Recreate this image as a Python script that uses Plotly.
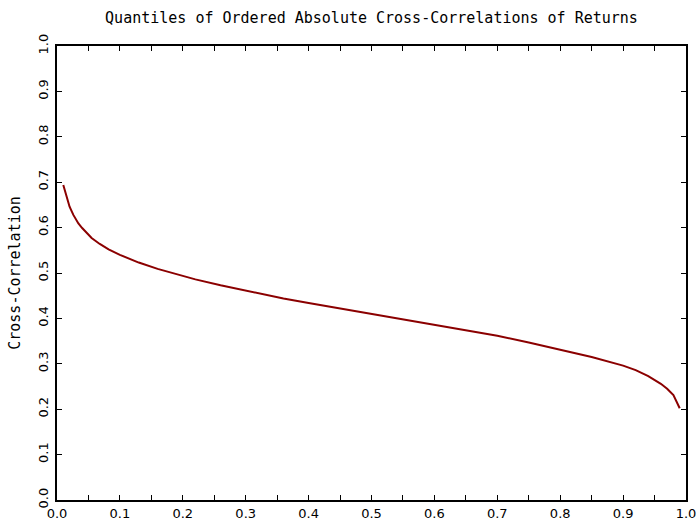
import plotly.graph_objects as go

# Data
quantile = [0.01, 0.015, 0.02, 0.026, 0.034, 0.04, 0.045, 0.055, 0.068, 0.082, 0.10, 0.13,
            0.16, 0.19, 0.22, 0.26, 0.29, 0.32, 0.36, 0.40, 0.45, 0.50, 0.55, 0.60, 0.65,
            0.70, 0.75, 0.80, 0.85, 0.90, 0.92, 0.94, 0.96, 0.97, 0.98, 0.99]
cross_corr = [0.694, 0.668, 0.646, 0.628, 0.609, 0.599, 0.591, 0.577, 0.564, 0.552, 0.540,
              0.523, 0.509, 0.497, 0.486, 0.473, 0.464, 0.455, 0.444, 0.434, 0.422, 0.411,
              0.399, 0.387, 0.375, 0.362, 0.347, 0.331, 0.315, 0.296, 0.286, 0.273, 0.256,
              0.245, 0.231, 0.202]

x_tickvals = [i * 0.05 for i in range(21)]
x_ticktext = [f"{v:.1f}" if i % 2 == 0 else "" for i, v in enumerate(x_tickvals)]
y_tickvals = [i * 0.1 for i in range(11)]
y_ticktext = [f"{v:.1f}" for v in y_tickvals]

title_text = "Quantiles of Ordered Absolute Cross-Correlations of Returns"
y_title = "Cross-Correlation"

fig = go.Figure()
fig.add_trace(go.Scatter(x=quantile, y=cross_corr, mode="lines",
                         line=dict(color="#8B0000", width=2), showlegend=False))

axis_common = dict(showline=True, linecolor="black", linewidth=2, mirror="ticks",
                   ticks="inside", ticklen=5, tickcolor="black", tickwidth=1,
                   showgrid=False, zeroline=False, automargin=False,
                   ticklabeloverflow="allow",
                   tickfont=dict(family="DejaVu Sans", size=13, color="black"))

fig.update_layout(
    width=696, height=524,
    margin=dict(l=57, r=10, t=46, b=24, autoexpand=False),
    paper_bgcolor="white", plot_bgcolor="white",
    title=dict(text=title_text, x=0.5, xref="paper", y=0.967, yanchor="middle",
               font=dict(family="DejaVu Sans Mono", size=15, color="black")),
    xaxis=dict(range=[0, 1], tickmode="array", tickvals=x_tickvals, ticktext=x_ticktext,
               ticklabelstandoff=0, **axis_common),
    yaxis=dict(range=[0, 1], tickmode="array", tickvals=y_tickvals, ticktext=y_ticktext,
               tickangle=-90, ticklabelstandoff=2,
               title=dict(text=y_title, standoff=12,
                          font=dict(family="DejaVu Sans Mono", size=15, color="black")),
               **axis_common),
)

fig.write_html("out.html")
